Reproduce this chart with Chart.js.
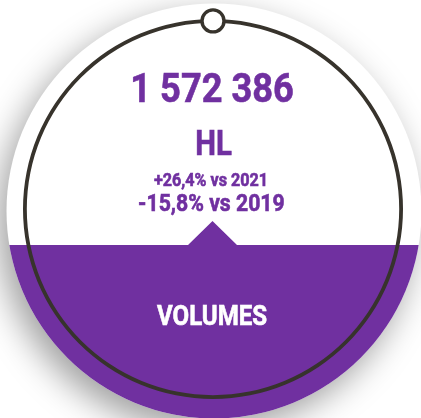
<!DOCTYPE html>
<html>
<head>
<meta charset="utf-8">
<script src="https://cdn.jsdelivr.net/npm/chart.js@4"></script>
<style>
  html, body { margin: 0; padding: 0; background: #fff; }
  #wrap { width: 421px; height: 418px; position: relative; }
</style>
</head>
<body>
<div id="wrap"><canvas id="kpiChart"></canvas></div>
<script>
// KPI values
const metricLabels = ['VOLUMES'];
const volumeValues = [1572386];
const unitLabels = ['HL'];
const compareYears = [2021, 2019];
const comparePcts = [26.4, -15.8];

const purple = '#7030a0';
const ringColor = '#37332c';

function formatNumber(v) {
  return String(v).replace(/\B(?=(\d{3})+(?!\d))/g, ' ');
}

function formatPct(p, year) {
  const sign = p >= 0 ? '+' : '-';
  return sign + Math.abs(p).toFixed(1).replace('.', ',') + '% vs ' + year;
}

// draws bold condensed-looking text squeezed to a given width
function fitText(ctx, text, cx, baseY, size, width, color) {
  ctx.save();
  ctx.font = 'bold ' + size + 'px Roboto';
  ctx.fillStyle = color;
  ctx.textAlign = 'left';
  ctx.textBaseline = 'alphabetic';
  const m = ctx.measureText(text);
  const w = m.actualBoundingBoxLeft + m.actualBoundingBoxRight;
  const sx = width / w;
  ctx.translate(cx - width / 2, baseY);
  ctx.scale(sx, 1);
  ctx.fillText(text, m.actualBoundingBoxLeft, 0);
  // slight extra stroke to get the heavier look
  ctx.lineWidth = 0.6;
  ctx.strokeStyle = color;
  ctx.strokeText(text, m.actualBoundingBoxLeft, 0);
  ctx.restore();
}

const discPlugin = {
  id: 'disc',
  beforeDatasetsDraw(chart) {
    const ctx = chart.ctx;
    const cx = 214, cy = 211, r = 207.5;
    const splitY = 245;
    ctx.save();
    // white disc with soft shadow, falling bottom-left
    ctx.shadowColor = 'rgba(0,0,0,0.38)';
    ctx.shadowBlur = 34;
    ctx.shadowOffsetX = -8;
    ctx.shadowOffsetY = 12;
    ctx.beginPath();
    ctx.arc(cx, cy, r, 0, Math.PI * 2);
    ctx.fillStyle = '#fff';
    ctx.fill();
    ctx.restore();

    // purple bottom part with the little pointer
    ctx.save();
    ctx.beginPath();
    ctx.arc(cx, cy, r, 0, Math.PI * 2);
    ctx.clip();
    ctx.fillStyle = purple;
    ctx.beginPath();
    ctx.moveTo(0, splitY);
    ctx.lineTo(188, splitY);
    ctx.lineTo(212.5, 221);
    ctx.lineTo(237, splitY);
    ctx.lineTo(421, splitY);
    ctx.lineTo(421, 418);
    ctx.lineTo(0, 418);
    ctx.closePath();
    ctx.fill();
    ctx.restore();
  },
  afterDatasetsDraw(chart) {
    const ctx = chart.ctx;
    const meta = chart.getDatasetMeta(0);
    const arc = meta.data[0];
    const mid = (arc.outerRadius + arc.innerRadius) / 2;

    // knob on top of the ring
    ctx.save();
    ctx.beginPath();
    ctx.arc(arc.x, arc.y - mid, 11, 0, Math.PI * 2);
    ctx.fillStyle = '#fff';
    ctx.fill();
    ctx.lineWidth = 3.4;
    ctx.strokeStyle = ringColor;
    ctx.stroke();
    ctx.restore();

    fitText(ctx, formatNumber(volumeValues[0]), 213, 101.5, 40, 160, purple);
    fitText(ctx, unitLabels[0], 214.5, 155, 35, 35, purple);
    fitText(ctx, formatPct(comparePcts[0], compareYears[0]), 210, 186, 18, 112, purple);
    fitText(ctx, formatPct(comparePcts[1], compareYears[1]), 211.5, 211, 24, 145, purple);
    fitText(ctx, metricLabels[0], 212, 325, 28, 110, '#fff');
  }
};

new Chart(document.getElementById('kpiChart'), {
  type: 'doughnut',
  data: {
    labels: metricLabels,
    datasets: [{
      data: volumeValues,
      backgroundColor: ringColor,
      borderWidth: 0,
      hoverOffset: 0,
      offset: 0
    }]
  },
  options: {
    responsive: true,
    maintainAspectRatio: false,
    animation: false,
    cutout: 186.2,
    layout: { padding: { left: 23, right: 18, top: 19, bottom: 19 } },
    plugins: {
      legend: { display: false },
      tooltip: { enabled: false }
    },
    events: []
  },
  plugins: [discPlugin]
});
</script>
</body>
</html>
